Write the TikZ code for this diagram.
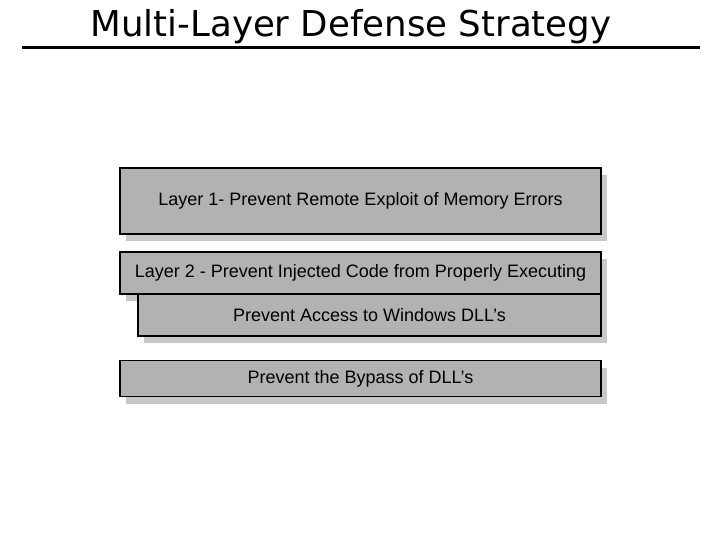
\documentclass[tikz,border=0pt]{standalone}
\usepackage{fontspec}
\setmainfont{Liberation Sans}
\newfontfamily\titlefont{DejaVu Sans}
\usetikzlibrary{shadows}
\definecolor{boxgray}{HTML}{B2B2B2}
\definecolor{shadowgray}{HTML}{C8C8C8}

\begin{document}
\begin{tikzpicture}[x=1pt, y=-1pt,
  layerbox/.style={draw=black, fill=boxgray, line width=1.2pt, inner sep=0pt,
    font=\fontsize{18}{21}\selectfont,
    drop shadow={shadow xshift=6pt, shadow yshift=-7pt, fill=shadowgray, opacity=1}}]

% Page frame
\useasboundingbox (0,0) rectangle (720,540);

% Title and rule
\node[anchor=base, font=\titlefont\fontsize{35.6}{40}\selectfont] (title) at (351,37)
  {Multi-Layer Defense Strategy};
\draw[line width=3pt] (22,48) -- (700,48);

% --- Layer boxes (top to bottom) ---
\node[layerbox, minimum width=481pt, minimum height=66pt] (layerone) at (360.5,201)
  {Layer 1- Prevent Remote Exploit of Memory Errors};
\node[layerbox, minimum width=481pt, minimum height=42pt] (layertwo) at (360.5,273)
  {Layer 2 - Prevent Injected Code from Properly Executing};
\node[layerbox, minimum width=463pt, minimum height=42pt] (dllaccess) at (369.5,315)
  {Prevent Access to Windows DLL's};
\node[layerbox, minimum width=481pt, minimum height=36pt] (dllbypass) at (360.5,378.5)
  {Prevent the Bypass of DLL's};

\end{tikzpicture}
\end{document}
